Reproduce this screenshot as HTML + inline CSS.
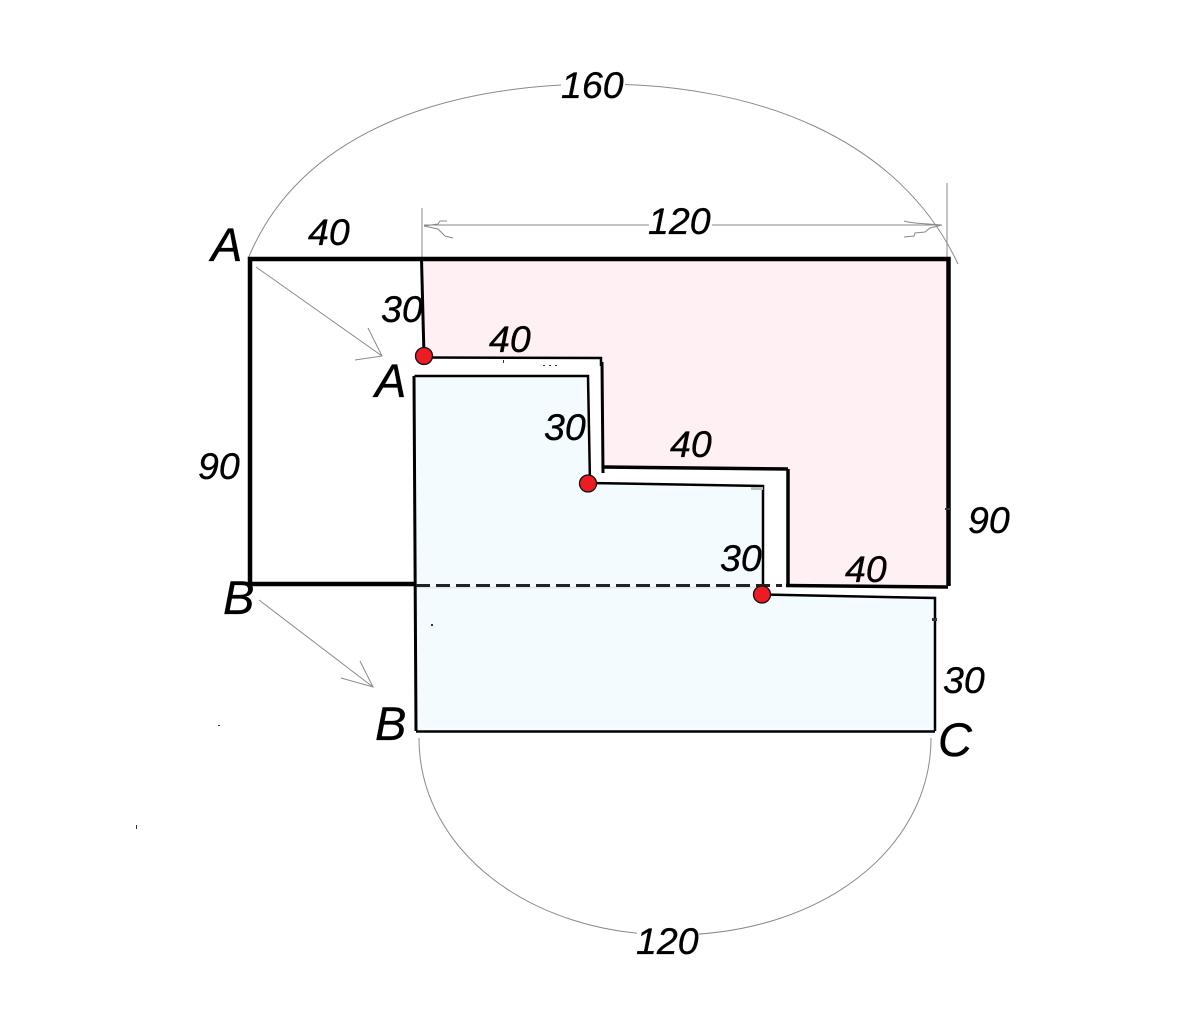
<!DOCTYPE html>
<html>
<head>
<meta charset="utf-8">
<style>
html,body{margin:0;padding:0;background:#fff;}
svg{display:block;}
text{font-family:"Liberation Sans",sans-serif;font-style:italic;fill:#000;stroke:#000;stroke-width:0.35px;}
.n{font-size:37.500px;}
.l{font-size:47px;}
</style>
</head>
<body>
<svg width="1200" height="1034" viewBox="0 0 1200 1034" xmlns="http://www.w3.org/2000/svg">
<rect width="1200" height="1034" fill="#fff"/>

<!-- fills -->
<polygon points="422,259 948,259 948,586 788,585 788,469 602,467 601,358 424,356" fill="#fff0f3"/>
<polygon points="415,376 588,376 590,483 763,486 763,594 935,598 935,731 416,731" fill="#f3fbfe"/>
<line x1="416" y1="587.500" x2="762" y2="587.500" stroke="#e4e8e8" stroke-width="2"/>

<!-- thin grey dimension lines -->
<g fill="none" stroke="#8a8a8a" stroke-width="1">
  <path d="M248 259 C298 135 440 84 600 84 C760 84 900 140 958 264"/>
  <path d="M419 738 C419 850 530 935 672 935 C820 935 931 850 931 738"/>
  <line x1="422" y1="208" x2="422" y2="258"/>
  <line x1="947" y1="183" x2="947" y2="258"/>
  <line x1="424" y1="225" x2="942" y2="225"/>
  <path d="M424 226 L438 229 L445 236 L453 238"/>
  <path d="M424 226 L438 224 L440 221 L447 221"/>
  <path d="M942 225 L930 228 L925 232 L915 233 L914 236 L904 237"/>
  <path d="M942 225 L928 224 L915 223 L908 222 L904 221"/>
  <line x1="256" y1="267" x2="382" y2="356"/>
  <path d="M368 328 L382 356 L355 360"/>
  <line x1="259" y1="600" x2="373" y2="687"/>
  <path d="M360 661 L373 687 L341 678"/>
</g>

<!-- heavy outline, top rectangle -->
<g fill="none" stroke="#000" stroke-linejoin="miter">
  <polyline points="250,585 250,259 948.5,259 948.5,586" stroke-width="4.500"/>
  <line x1="250" y1="584" x2="415" y2="584" stroke-width="4.500"/>
  <line x1="421.5" y1="259" x2="424" y2="356" stroke-width="3"/>
  <polyline points="424,357.500 601,358 601,366" stroke-width="2.500"/>
  <line x1="602" y1="362" x2="603" y2="473" stroke-width="3"/>
  <polyline points="603,467 788,469" stroke-width="3.500"/>
  <line x1="788" y1="469" x2="788" y2="586" stroke-width="3.500"/>
  <polyline points="786,585.500 948,587" stroke-width="3.500"/>

  <!-- lower shape -->
  <polyline points="414.500,376 588,376 590,483" stroke-width="2.500"/>
  <line x1="414" y1="376" x2="416" y2="731" stroke-width="3"/>
  <polyline points="589,483 763,486 763,594" stroke-width="2.500"/>
  <polyline points="763,594.500 935,598 935,731" stroke-width="2.500"/>
  <line x1="416" y1="731.500" x2="935" y2="731.500" stroke-width="2.500"/>

  <!-- dashed fold -->
  <line x1="416" y1="585.500" x2="782" y2="585.500" stroke="#222" stroke-width="3" stroke-dasharray="14,6"/>
</g>

<!-- small specks -->
<g fill="#333">
  <rect x="932" y="618" width="5" height="3"/>
  <rect x="945" y="508" width="6" height="2"/>
  <rect x="431" y="624" width="2" height="2"/>
  <rect x="218" y="725" width="2" height="1"/>
  <rect x="136" y="825" width="1" height="4"/>
  <rect x="503" y="360" width="1" height="3"/>
  <rect x="543" y="365" width="2" height="1"/>
  <rect x="549" y="365" width="2" height="1"/>
  <rect x="555" y="365" width="2" height="1"/>
</g>
<rect x="751" y="487" width="12" height="3" fill="#bbb"/>

<!-- red dots -->
<g fill="#ed1c24" stroke="#111" stroke-width="1.300">
  <circle cx="424" cy="356" r="8.500"/>
  <circle cx="588" cy="483.500" r="8.500"/>
  <circle cx="762" cy="594.500" r="8.500"/>
</g>

<!-- labels with white gaps -->
<rect x="561" y="68" width="64" height="34" fill="#fff"/>
<rect x="649" y="206" width="63" height="32" fill="#fff"/>
<rect x="637" y="926" width="62" height="30" fill="#fff"/>

<text class="n" x="561" y="98">160</text>
<text class="n" x="648" y="234">120</text>
<text class="n" x="636" y="954">120</text>

<text class="n" x="308" y="245">40</text>
<text class="n" x="381" y="322">30</text>
<text class="n" x="489" y="352">40</text>
<text class="n" x="544" y="440">30</text>
<text class="n" x="670" y="457">40</text>
<text class="n" x="720" y="571">30</text>
<text class="n" x="845" y="582">40</text>
<text class="n" x="198" y="479">90</text>
<text class="n" x="968" y="533">90</text>
<text class="n" x="943" y="693">30</text>

<text class="l" x="211" y="261">A</text>
<text class="l" x="375" y="397">A</text>
<text class="l" x="223" y="614">B</text>
<text class="l" x="375" y="740">B</text>
<text class="l" x="938" y="756">C</text>
</svg>
</body>
</html>
